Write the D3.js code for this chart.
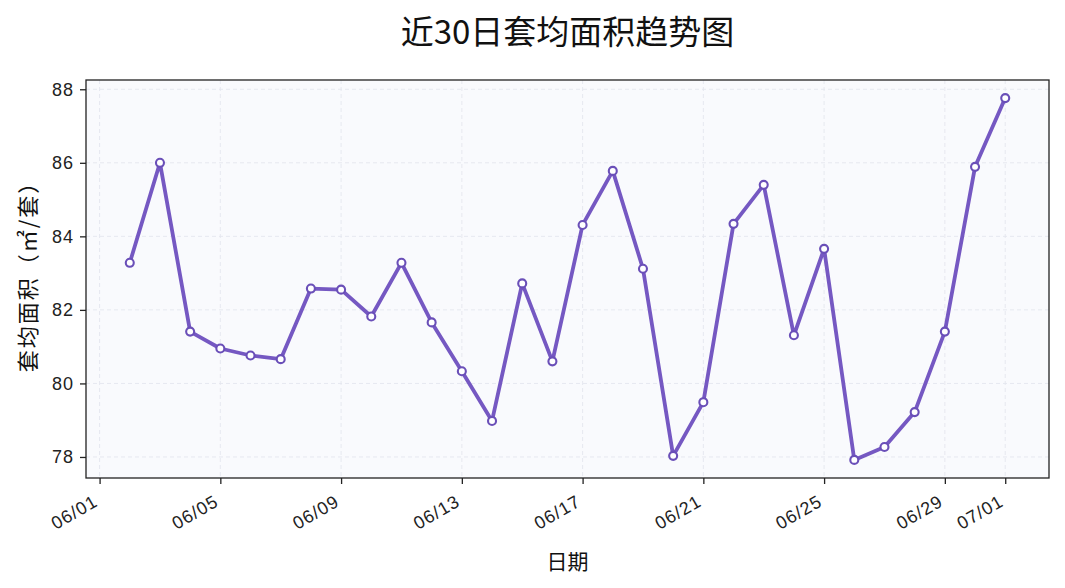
<!DOCTYPE html>
<html><head><meta charset="utf-8">
<script src="https://cdn.jsdelivr.net/npm/d3@7"></script>
<style>body{margin:0;background:#fff;}svg{display:block;}</style>
</head><body>
<svg id="c" width="1065" height="588"></svg>
<script>
const dates = ["2024-06-02","2024-06-03","2024-06-04","2024-06-05","2024-06-06","2024-06-07","2024-06-08","2024-06-09","2024-06-10","2024-06-11","2024-06-12","2024-06-13","2024-06-14","2024-06-15","2024-06-16","2024-06-17","2024-06-18","2024-06-19","2024-06-20","2024-06-21","2024-06-22","2024-06-23","2024-06-24","2024-06-25","2024-06-26","2024-06-27","2024-06-28","2024-06-29","2024-06-30","2024-07-01"];
const values = [83.28,86.0,81.41,80.95,80.76,80.66,82.58,82.55,81.82,83.28,81.66,80.33,78.98,82.72,80.60,84.31,85.78,83.12,78.03,79.49,84.34,85.40,81.31,83.66,77.92,78.27,79.22,81.41,85.89,87.76];
const xTicks = ["2024-06-01","2024-06-05","2024-06-09","2024-06-13","2024-06-17","2024-06-21","2024-06-25","2024-06-29","2024-07-01"];
const yTicks = [78,80,82,84,86,88];
const title = "近30日套均面积趋势图";
const xLabel = "日期";
const yLabel = "套均面积（㎡/套）";

const W=1065,H=588,m={l:86,r:16,t:80,b:110};
const font = "'Liberation Sans', Arial, 'Noto Sans CJK SC', sans-serif";
const cjk = "'Noto Sans CJK SC', sans-serif";
const color = "#7558c2";
const parse = d3.timeParse("%Y-%m-%d");
const dx = dates.map(parse);
const svg = d3.select("#c");
const pw=W-m.l-m.r, ph=H-m.t-m.b;

const t0=dx[0], t1=dx[dx.length-1], span=t1-t0;
const x = d3.scaleTime().domain([new Date(+t0-span*0.05), new Date(+t1+span*0.05)]).range([m.l, m.l+pw]);
const vmin=d3.min(values), vmax=d3.max(values), vr=vmax-vmin;
const y = d3.scaleLinear().domain([vmin-vr*0.05, vmax+vr*0.05]).range([m.t+ph, m.t]);

svg.append("rect").attr("x",m.l).attr("y",m.t).attr("width",pw).attr("height",ph).attr("fill","#f9fafd");

const g = svg.append("g");
g.selectAll(".gx").data(xTicks.map(parse)).join("line")
 .attr("x1",d=>x(d)).attr("x2",d=>x(d)).attr("y1",m.t).attr("y2",m.t+ph)
 .attr("stroke","#e4e6ee").attr("stroke-width",0.9).attr("stroke-dasharray","4,3");
g.selectAll(".gy").data(yTicks).join("line")
 .attr("x1",m.l).attr("x2",m.l+pw).attr("y1",d=>y(d)).attr("y2",d=>y(d))
 .attr("stroke","#e4e6ee").attr("stroke-width",0.9).attr("stroke-dasharray","4,3");

const line = d3.line().x((d,i)=>x(dx[i])).y(d=>y(d));
svg.append("path").datum(values).attr("d",line).attr("fill","none").attr("stroke",color).attr("stroke-width",3.8).attr("stroke-linejoin","round");
svg.selectAll(".pt").data(values).join("circle").attr("cx",(d,i)=>x(dx[i])).attr("cy",d=>y(d)).attr("r",4)
 .attr("fill","#fff").attr("stroke","#6a4fb8").attr("stroke-width",2.1);

svg.append("rect").attr("x",m.l).attr("y",m.t).attr("width",pw).attr("height",ph).attr("fill","none").attr("stroke","#222").attr("stroke-width",1.3);

const xa = svg.append("g").attr("transform",`translate(0,${m.t+ph})`)
 .call(d3.axisBottom(x).tickValues(xTicks.map(parse)).tickFormat(d3.timeFormat("%m/%d")).tickSize(6).tickPadding(4));
xa.select(".domain").remove();
xa.selectAll("line").attr("stroke","#222").attr("stroke-width",1.3);
xa.selectAll("text").attr("font-family",font).attr("font-size",18).attr("letter-spacing","1px").attr("fill","#222")
 .attr("text-anchor","end").attr("y",0).attr("dy",0).attr("transform","translate(-1,27) rotate(-30)");

const ya = svg.append("g").attr("transform",`translate(${m.l},0)`)
 .call(d3.axisLeft(y).tickValues(yTicks).tickSize(6).tickPadding(6));
ya.select(".domain").remove();
ya.selectAll("line").attr("stroke","#222").attr("stroke-width",1.3);
ya.selectAll("text").attr("font-family",font).attr("font-size",18).attr("letter-spacing","1px").attr("fill","#222");

svg.append("text").attr("x",m.l+pw/2).attr("y",44).attr("text-anchor","middle")
 .attr("font-family",cjk).attr("font-size",33).attr("fill","#111").text(title);
svg.append("text").attr("x",m.l+pw/2).attr("y",569).attr("text-anchor","middle")
 .attr("font-family",cjk).attr("font-size",21).attr("fill","#111").text(xLabel);
svg.append("text").attr("transform",`translate(36,${m.t+ph/2-8}) rotate(-90)`).attr("text-anchor","middle")
 .attr("font-family",cjk).attr("font-size",22).attr("letter-spacing","2px").attr("fill","#111").text(yLabel);
</script>
</body></html>
